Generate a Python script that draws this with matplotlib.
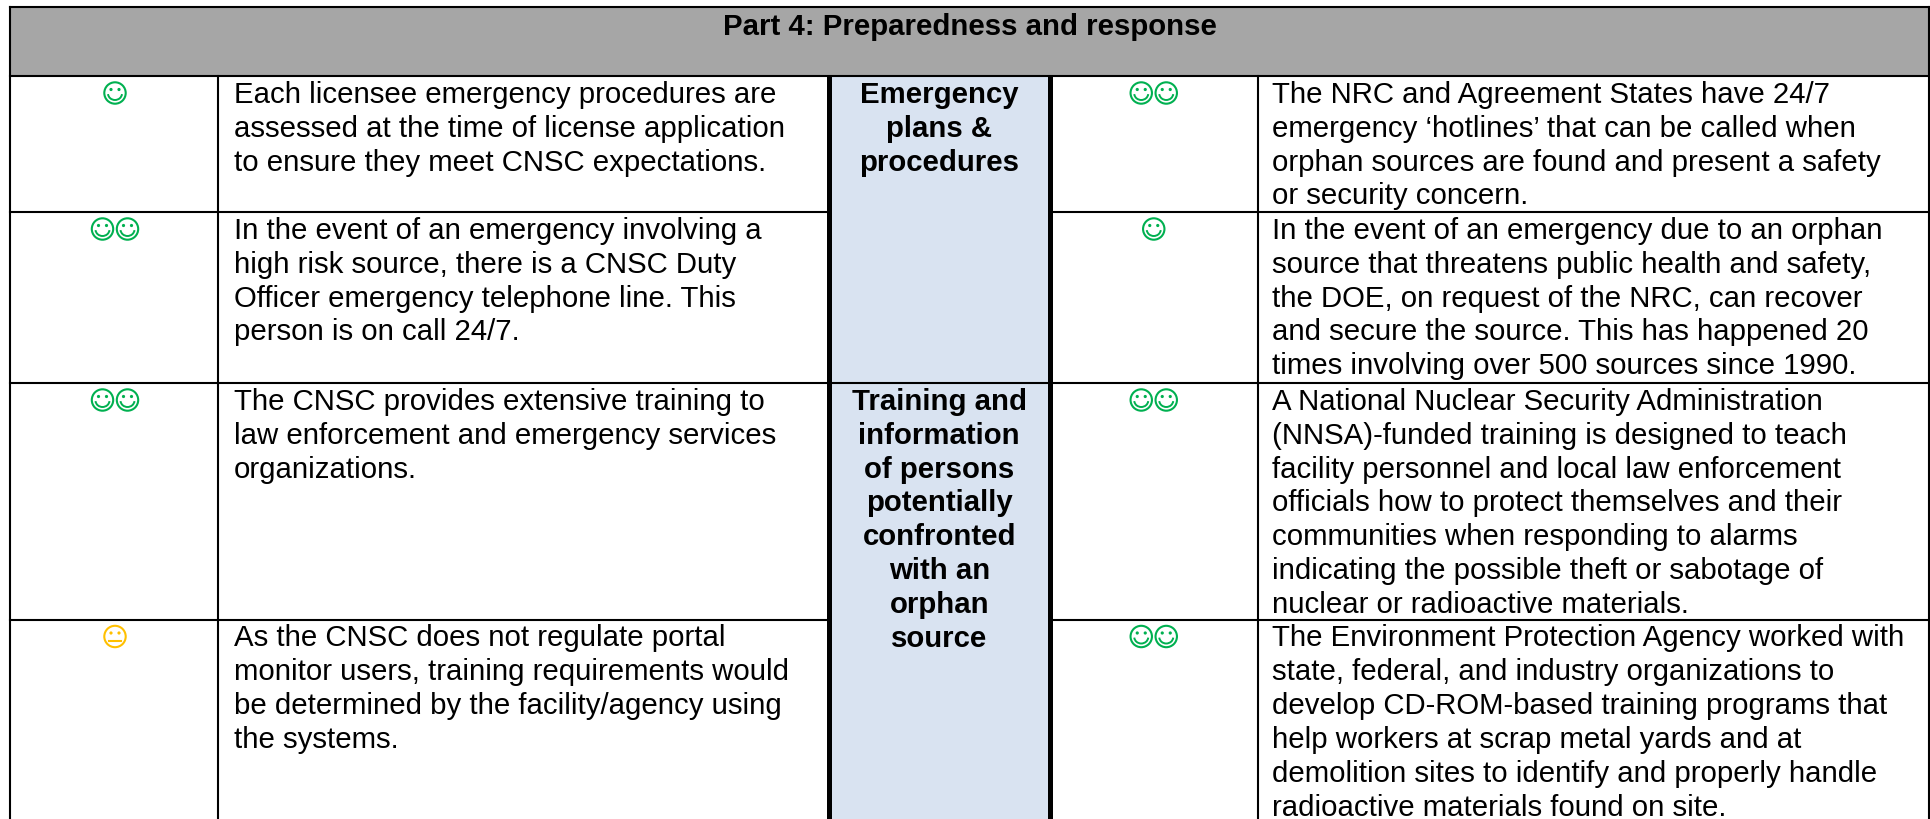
import matplotlib
matplotlib.use("Agg")
import matplotlib.pyplot as plt
from matplotlib.patches import Circle, Arc, Rectangle

plt.rcParams['font.family'] = ['Liberation Sans', 'DejaVu Sans']

title = "Part 4: Preparedness and response"

# ratings: 2 = two smileys, 1 = one smiley, 0 = neutral
left_ratings = [1, 2, 2, 0]
right_ratings = [2, 1, 2, 2]

left_text = [
    ["Each licensee emergency procedures are",
     "assessed at the time of license application",
     "to ensure they meet CNSC expectations."],
    ["In the event of an emergency involving a",
     "high risk source, there is a CNSC Duty",
     "Officer emergency telephone line. This",
     "person is on call 24/7."],
    ["The CNSC provides extensive training to",
     "law enforcement and emergency services",
     "organizations."],
    ["As the CNSC does not regulate portal",
     "monitor users, training requirements would",
     "be determined by the facility/agency using",
     "the systems."],
]

right_text = [
    ["The NRC and Agreement States have 24/7",
     "emergency \u2018hotlines\u2019 that can be called when",
     "orphan sources are found and present a safety",
     "or security concern."],
    ["In the event of an emergency due to an orphan",
     "source that threatens public health and safety,",
     "the DOE, on request of the NRC, can recover",
     "and secure the source. This has happened 20",
     "times involving over 500 sources since 1990."],
    ["A National Nuclear Security Administration",
     "(NNSA)-funded training is designed to teach",
     "facility personnel and local law enforcement",
     "officials how to protect themselves and their",
     "communities when responding to alarms",
     "indicating the possible theft or sabotage of",
     "nuclear or radioactive materials."],
    ["The Environment Protection Agency worked with",
     "state, federal, and industry organizations to",
     "develop CD-ROM-based training programs that",
     "help workers at scrap metal yards and at",
     "demolition sites to identify and properly handle",
     "radioactive materials found on site."],
]

mid_text = [
    (0, ["Emergency", "plans &", "procedures"]),
    (2, ["Training and", "information", "of persons", "potentially",
         "confronted", "with an", "orphan", "source"]),
]

# table layout in pixels
W, H = 1930, 819
x_left, x_col1, x_mid0, x_mid1, x_col2, x_right = 10, 218, 829, 1049.5, 1258, 1929
y_top, y_head = 7, 76
row_tops = [76, 212, 383, 619.5]
pitch = 33.8
fs = 21.15

GREEN = "#00B050"
YELLOW = "#FFC000"


def smiley(ax, cx, cy, color, neutral=False):
    r = 10.7
    ax.add_patch(Circle((cx, cy), r, fill=False, ec=color, lw=1.5, zorder=3))
    for dx in (-4, 4):
        ax.add_patch(Circle((cx + dx, cy - 3.5), 1.6, fc=color, ec="none", zorder=3))
    if neutral:
        ax.plot([cx - 6, cx + 6], [cy + 4.2, cy + 4.2], color=color, lw=1.5, zorder=3)
    else:
        ax.add_patch(Arc((cx, cy + 0.5), 14, 13, theta1=5, theta2=175, ec=color, lw=1.4, zorder=3))


def rating(ax, xc, yt, n):
    cy = yt + 17
    if n == 2:
        smiley(ax, xc - 12.5, cy, GREEN)
        smiley(ax, xc + 12.5, cy, GREEN)
    elif n == 1:
        smiley(ax, xc, cy, GREEN)
    else:
        smiley(ax, xc, cy, YELLOW, neutral=True)


fig = plt.figure(figsize=(W / 100, H / 100), dpi=100)
ax = fig.add_axes([0, 0, 1, 1])
ax.set_xlim(0, W)
ax.set_ylim(H, 0)
ax.axis("off")

# fills
ax.add_patch(Rectangle((x_left, y_top), x_right - x_left, y_head - y_top, fc="#A6A6A6", ec="none"))
ax.add_patch(Rectangle((x_mid0, y_head), x_mid1 - x_mid0, H - y_head, fc="#D9E3F1", ec="none"))

# grid lines
thin = 1.5
thick = 3.6
ax.plot([x_left, x_right], [y_top, y_top], color="k", lw=thin)
ax.plot([x_left, x_right], [y_head, y_head], color="k", lw=thin)
for x in (x_left, x_right):
    ax.plot([x, x], [y_top, H], color="k", lw=thin)
for x in (x_col1, x_col2):
    ax.plot([x, x], [y_head, H], color="k", lw=thin)
for x in (x_mid0, x_mid1):
    ax.plot([x, x], [y_head, H], color="k", lw=thick, solid_capstyle="butt")
for y in row_tops[1:]:
    ax.plot([x_left, x_mid0], [y, y], color="k", lw=thin)
    ax.plot([x_mid1, x_right], [y, y], color="k", lw=thin)
# the line between the two topics runs through the middle column too
ax.plot([x_mid0, x_mid1], [row_tops[2], row_tops[2]], color="k", lw=thin)

# title
ax.text(970, 35, title, fontsize=fs, fontweight="bold", ha="center", va="baseline", color="k")

# rows
for i, yt in enumerate(row_tops):
    rating(ax, (x_left + x_col1) / 2 + 1, yt, left_ratings[i])
    rating(ax, (x_mid1 + x_col2) / 2, yt, right_ratings[i])
    for j, line in enumerate(left_text[i]):
        ax.text(234, yt + 27 + j * pitch, line, fontsize=fs, ha="left", va="baseline", color="k")
    for j, line in enumerate(right_text[i]):
        ax.text(1272, yt + 27 + j * pitch, line, fontsize=fs, ha="left", va="baseline", color="k")

for row, lines in mid_text:
    for j, line in enumerate(lines):
        ax.text((x_mid0 + x_mid1) / 2, row_tops[row] + 27 + j * pitch, line, fontsize=fs,
                fontweight="bold", ha="center", va="baseline", color="k")

fig.savefig("out.png", dpi=100)
